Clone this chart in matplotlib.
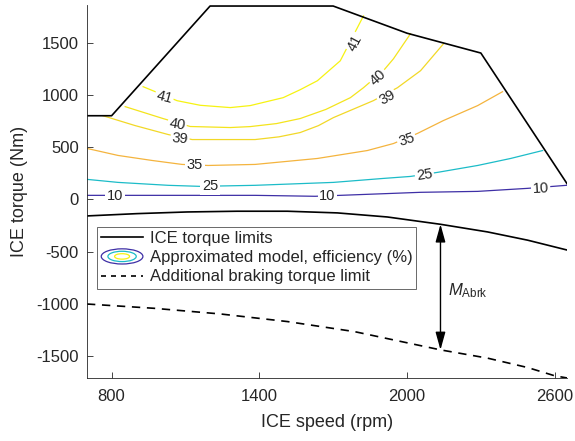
import numpy as np
import matplotlib
matplotlib.use("Agg")
import matplotlib.pyplot as plt
from matplotlib.legend_handler import HandlerBase
from matplotlib.patches import Ellipse
from matplotlib.lines import Line2D

plt.rcParams['font.family'] = ['Liberation Sans', 'DejaVu Sans']
plt.rcParams['mathtext.fontset'] = 'custom'
plt.rcParams['mathtext.it'] = 'Liberation Sans:italic'
plt.rcParams['mathtext.rm'] = 'Liberation Sans'
plt.rcParams['axes.unicode_minus'] = False

# ICE torque limits (rpm, Nm)
max_speed = [700, 800, 1200, 1700, 2000, 2300, 2650]
max_torque = [800, 800, 1850, 1850, 1590, 1400, 150]
min_speed = [700, 903, 1107, 1310, 1514, 1717, 1920, 2136, 2327, 2490, 2653]
min_torque = [-159, -137, -121, -114, -114, -130, -169, -239, -312, -391, -487]

# additional braking torque limit
brk_speed = [700, 972, 1241, 1514, 1786, 2136, 2327, 2490, 2600, 2653]
brk_torque = [-1002, -1043, -1097, -1170, -1266, -1441, -1520, -1610, -1689, -1711]

# efficiency iso-lines: level -> (speed, torque)
eff_lines = {
    10: ([700, 1383, 1627, 2055, 2287, 2490, 2648],
         [38, 38, 29, 67, 76, 105, 134]),
    25: ([700, 826, 1030, 1160, 1383, 1701, 1904, 2014, 2124, 2287, 2421, 2551],
         [191, 162, 134, 124, 134, 162, 200, 219, 258, 324, 391, 467]),
    35: ([700, 826, 964, 1086, 1192, 1383, 1636, 1839, 1945, 2042, 2148, 2287, 2388],
         [487, 420, 372, 334, 324, 334, 391, 467, 534, 630, 754, 897, 1030]),
    39: ([765, 895, 1030, 1127, 1383, 1480, 1566, 1640, 1701, 1863, 1961, 2055, 2148],
         [800, 706, 620, 572, 572, 598, 639, 705, 782, 944, 1068, 1231, 1488]),
    40: ([855, 1009, 1119, 1282, 1363, 1470, 1566, 1670, 1770, 1823, 1904, 1945, 2014],
         [887, 773, 697, 687, 696, 725, 773, 860, 973, 1068, 1231, 1345, 1584]),
    41: ([928, 1066, 1160, 1282, 1363, 1497, 1566, 1636, 1729, 1823],
         [1078, 944, 900, 878, 897, 973, 1049, 1135, 1326, 1755]),
}
eff_colors = {10: '#3e2fa6', 25: '#1cbcc8', 35: '#f4b43e',
              39: '#f2d827', 40: '#f4e41c', 41: '#f6f312'}

# contour labels: (level, speed, torque, rotation)
eff_labels = [
    (41, 1013, 973, -15), (41, 1790, 1498, 62),
    (40, 1066, 716, -10), (40, 1884, 1164, 42),
    (39, 1078, 582, -5), (39, 1920, 973, 30),
    (35, 1139, 324, 0), (35, 1998, 572, 18),
    (25, 1200, 124, 0), (25, 2071, 229, 8),
    (10, 814, 29, 0), (10, 1676, 29, 0), (10, 2543, 105, 3),
]

arrow_speed = 2136
brk_label = r'$M_{\mathrm{Abrk}}$'


class ContourHandler(HandlerBase):
    def create_artists(self, legend, orig, xd, yd, w, h, fontsize, trans):
        cx, cy = xd + w / 2, yd + h / 2
        out = []
        for s, c in [(1.0, eff_colors[10]), (0.68, eff_colors[25]), (0.36, eff_colors[41])]:
            out.append(Ellipse((cx, cy), w * s, h * 1.3 * s, fill=False,
                               edgecolor=c, lw=0.9, transform=trans))
        return out


fig = plt.figure(figsize=(5.75, 4.41), dpi=100)
ax = fig.add_axes([0.1513, 0.1429, 0.8348, 0.8458])

for lev, (sp, tq) in eff_lines.items():
    ax.plot(sp, tq, color=eff_colors[lev], lw=0.9)
for lev, sp, tq, rot in eff_labels:
    ax.text(sp, tq, str(lev), fontsize=10.5, ha='center', va='center',
            rotation=rot, rotation_mode='anchor', color='#262626',
            bbox=dict(boxstyle='square,pad=0.1', fc='white', ec='none'))

ax.plot(max_speed, max_torque, 'k-', lw=1.2)
ax.plot(min_speed, min_torque, 'k-', lw=1.2)
ax.plot(brk_speed, brk_torque, 'k--', lw=1.2, dashes=(5, 4))

top = np.interp(arrow_speed, min_speed, min_torque)
bot = np.interp(arrow_speed, brk_speed, brk_torque)
ax.annotate('', xy=(arrow_speed, bot), xytext=(arrow_speed, top),
            arrowprops=dict(arrowstyle='<|-|>,head_length=0.9,head_width=0.25',
                            color='k', lw=1.0, shrinkA=0, shrinkB=0,
                            mutation_scale=12))
ax.text(arrow_speed + 30, (top + bot) / 2 - 30, brk_label, fontsize=12,
        ha='left', va='center', color='#262626')

ax.set_xlim(700, 2650)
ax.set_ylim(-1710, 1860)
ax.set_xticks([800, 1400, 2000, 2600])
ax.set_yticks([-1500, -1000, -500, 0, 500, 1000, 1500])
ax.tick_params(direction='in', length=4, width=0.6, labelsize=12,
               colors='#262626', pad=6)
ax.tick_params(axis='x', pad=8)
for s in ['top', 'right']:
    ax.spines[s].set_visible(False)
for s in ['left', 'bottom']:
    ax.spines[s].set_linewidth(0.6)
    ax.spines[s].set_color('#262626')
ax.set_xlabel('ICE speed (rpm)', fontsize=13, color='#262626', labelpad=7)
ax.set_ylabel('ICE torque (Nm)', fontsize=13, color='#262626', labelpad=6)

handles = [Line2D([], [], color='k', lw=1.2), object(),
           Line2D([], [], color='k', lw=1.2, ls='--', dashes=(3, 3))]
labels = ['ICE torque limits', 'Approximated model, efficiency (%)',
          'Additional braking torque limit']
leg = ax.legend(handles, labels, handler_map={object: ContourHandler()},
                loc='upper left', bbox_to_anchor=(0.021, 0.405), fontsize=12,
                frameon=True, fancybox=False, edgecolor='#262626',
                borderpad=0.25, labelspacing=0.25, handlelength=2.5,
                handletextpad=0.4, borderaxespad=0)
leg.get_frame().set_linewidth(0.6)
for t in leg.get_texts():
    t.set_color('#262626')

fig.savefig('out.png', dpi=100)
